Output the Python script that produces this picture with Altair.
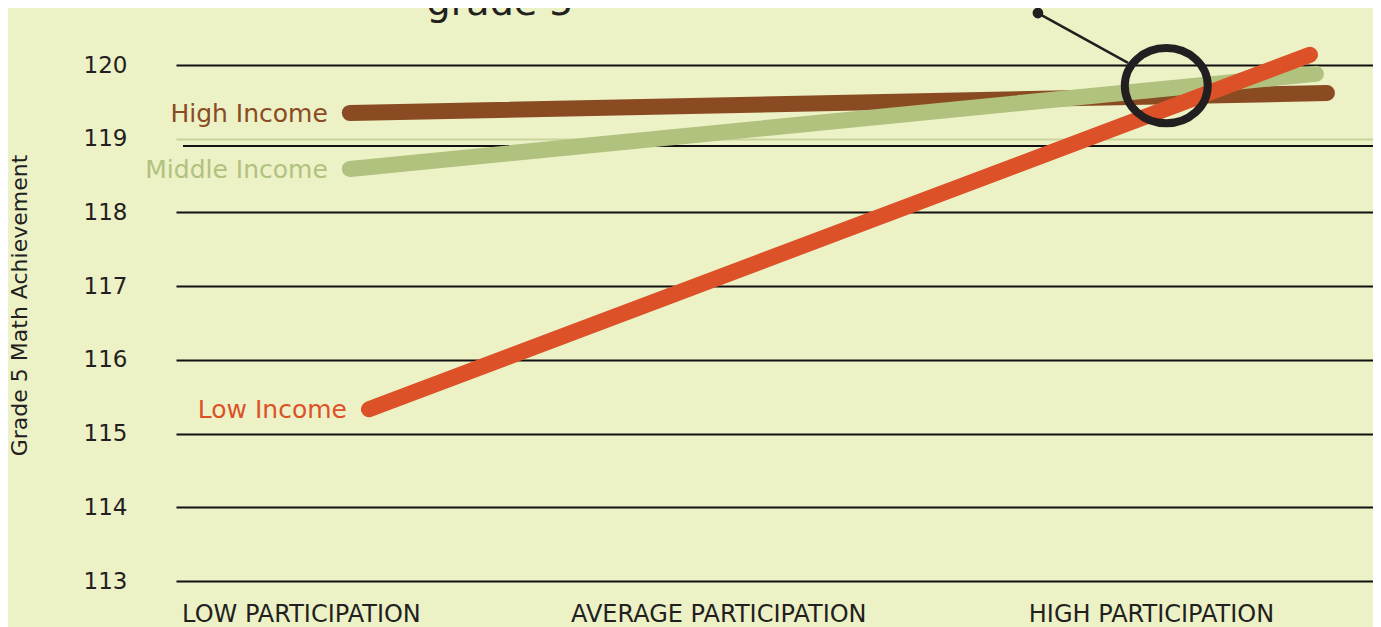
import altair as alt
import pandas as pd

# ---- data ----
series = ["High Income", "Middle Income", "Low Income"]
start_x = [0.115, 0.115, 0.160]
start_y = [119.35, 118.59, 115.33]
end_x = [2.414, 2.388, 2.374]
end_y = [119.62, 119.88, 120.14]
series_colors = ["#8A4B23", "#B1C17E", "#DC5128"]

x_positions = [0, 0.982, 2]
x_labels = ["LOW PARTICIPATION", "AVERAGE PARTICIPATION", "HIGH PARTICIPATION"]
y_ticks = [113, 114, 115, 116, 117, 118, 119, 120]
offset_rule_y = [118.9]

callout_x = [2.036]
callout_y = [119.72]
pointer_x = [1.734, 1.946]
pointer_y = [120.705, 120.03]

title_text = "grade 5"
title_note = "1"
y_title = "Grade 5 Math Achievement"

# ---- tables ----
rows = []
for i, s in enumerate(series):
    rows.append({"series": s, "x": start_x[i], "y": start_y[i], "o": i * 2})
    rows.append({"series": s, "x": end_x[i], "y": end_y[i], "o": i * 2 + 1})
lines_df = pd.DataFrame(rows)
labels_df = pd.DataFrame({"series": series, "x": start_x, "y": start_y})
rule_df = pd.DataFrame({"y": offset_rule_y})
callout_df = pd.DataFrame({"x": callout_x, "y": callout_y})
pointer_df = pd.DataFrame({"x": pointer_x, "y": pointer_y})
dot_df = pointer_df.iloc[:1]

W, H = 1197, 516
INK = "#231F20"

label_expr = " : ".join(
    f"datum.value < {(x_positions[i] + x_positions[i + 1]) / 2} ? '{x_labels[i]}'"
    for i in range(len(x_labels) - 1)
) + f" : '{x_labels[-1]}'"

x_scale = alt.Scale(domain=[-0.294, 2.5224], nice=False, zero=False)
y_scale = alt.Scale(domain=[113, 120], nice=False, zero=False)

x_enc = alt.X(
    "x:Q",
    scale=x_scale,
    axis=alt.Axis(
        values=x_positions,
        labelExpr=label_expr,
        title=None,
        grid=False,
        domain=False,
        ticks=False,
        labelFontSize=24,
        labelColor=INK,
        labelPadding=21,
        labelLimit=0,
        labelFont="DejaVu Sans",
    ),
)
y_enc = alt.Y(
    "y:Q",
    scale=y_scale,
    axis=alt.Axis(
        values=y_ticks,
        title=y_title,
        titleFontSize=22,
        titleFontWeight="normal",
        titleColor=INK,
        titlePadding=52,
        titleY=240,
        grid=True,
        gridColor={"condition": {"test": "datum.value === 119", "value": "#C9D39C"}, "value": "#111111"},
        gridWidth=2,
        domain=False,
        ticks=False,
        labelFontSize=23,
        labelColor=INK,
        labelPadding=49,
        labelFont="DejaVu Sans",
        titleFont="DejaVu Sans",
    ),
)

color_scale = alt.Scale(domain=series, range=series_colors)

lines = (
    alt.Chart(lines_df)
    .mark_line(strokeWidth=16, strokeCap="round")
    .encode(
        x=x_enc,
        y=y_enc,
        color=alt.Color("series:N", scale=color_scale, legend=None),
        order="o:Q",
    )
)

offset_rule = (
    alt.Chart(rule_df)
    .mark_rule(color="#111111", strokeWidth=2)
    .encode(y=y_enc, x=alt.value(7), x2=alt.value(W))
)

labels = (
    alt.Chart(labels_df)
    .mark_text(align="right", baseline="middle", dx=-22, dy=1, fontSize=25, font="DejaVu Sans")
    .encode(
        x=x_enc,
        y=y_enc,
        text="series:N",
        color=alt.Color("series:N", scale=color_scale, legend=None),
    )
)

ellipse_path = "M -1.05 0 A 1.05 0.95 0 1 0 1.05 0 A 1.05 0.95 0 1 0 -1.05 0 Z"
callout = (
    alt.Chart(callout_df)
    .mark_point(shape=ellipse_path, filled=False, strokeWidth=8, color=INK, size=6241, opacity=1)
    .encode(x=x_enc, y=y_enc)
)

pointer = (
    alt.Chart(pointer_df)
    .mark_line(strokeWidth=2.5, color=INK)
    .encode(x=x_enc, y=y_enc)
)
dot = (
    alt.Chart(dot_df)
    .mark_point(shape="circle", filled=True, size=115, color=INK, opacity=1)
    .encode(x=x_enc, y=y_enc)
)

title = (
    alt.Chart(pd.DataFrame({"t": [title_text]}))
    .mark_text(align="center", baseline="alphabetic", fontSize=38, font="DejaVu Sans", color=INK)
    .encode(text="t:N", x=alt.value(324), y=alt.value(-50))
)
title_sup = (
    alt.Chart(pd.DataFrame({"t": [title_note]}))
    .mark_text(align="left", baseline="alphabetic", fontSize=15, font="DejaVu Sans", color=INK)
    .encode(text="t:N", x=alt.value(402), y=alt.value(-60))
)

chart = (
    alt.layer(offset_rule, lines, labels, callout, pointer, dot, title, title_sup)
    .properties(
        width=W,
        height=H,
        autosize=alt.AutoSizeParams(type="none"),
        padding={"left": 168, "top": 57, "right": 0, "bottom": 46},
        background="#ECF1C6",
    )
    .configure_view(stroke=None)
)

chart.save("out.html", embed_options={"renderer": "svg", "actions": False})
